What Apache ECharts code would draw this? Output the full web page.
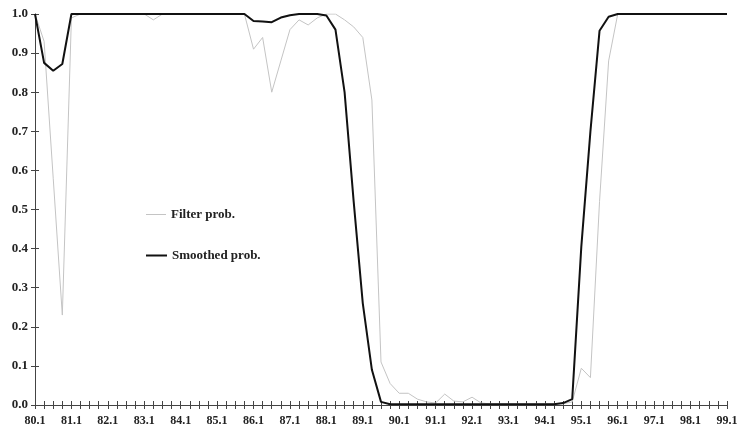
<!DOCTYPE html>
<html>
<head>
<meta charset="utf-8">
<script src="https://cdn.jsdelivr.net/npm/echarts@6/dist/echarts.min.js"></script>
<style>
html,body{margin:0;padding:0;background:#fff;}
#chart{width:741px;height:432px;}
</style>
</head>
<body>
<div id="chart"></div>
<script>
const quarters = [];
for (let y = 80; y <= 99; y++) {
  for (let q = 1; q <= 4; q++) {
    if (y === 99 && q > 1) break;
    quarters.push(y + '.' + q);
  }
}
const filterProb = [
  1.0, 0.93, 0.58, 0.23,
  0.99, 1.0, 1.0, 1.0,
  1.0, 1.0, 1.0, 1.0,
  1.0, 0.985, 1.0, 1.0,
  1.0, 1.0, 1.0, 1.0,
  1.0, 1.0, 1.0, 1.0,
  0.91, 0.94, 0.80, 0.88,
  0.96, 0.985, 0.972, 0.99,
  1.0, 1.0, 0.985, 0.967,
  0.94, 0.78, 0.11, 0.055,
  0.03, 0.03, 0.015, 0.008,
  0.005, 0.028, 0.01, 0.008,
  0.02, 0.005, 0.003, 0.003,
  0.003, 0.003, 0.003, 0.003,
  0.003, 0.003, 0.003, 0.008,
  0.094, 0.07, 0.52, 0.88,
  1.0, 1.0, 1.0, 1.0,
  1.0, 1.0, 1.0, 1.0,
  1.0, 1.0, 1.0, 1.0,
  1.0
];
const smoothedProb = [
  1.0, 0.875, 0.855, 0.872,
  1.0, 1.0, 1.0, 1.0,
  1.0, 1.0, 1.0, 1.0,
  1.0, 1.0, 1.0, 1.0,
  1.0, 1.0, 1.0, 1.0,
  1.0, 1.0, 1.0, 1.0,
  0.982, 0.981, 0.979, 0.991,
  0.997, 1.0, 1.0, 1.0,
  0.996, 0.96, 0.80, 0.52,
  0.26, 0.09, 0.008, 0.002,
  0.002, 0.002, 0.002, 0.002,
  0.002, 0.002, 0.002, 0.002,
  0.002, 0.002, 0.002, 0.002,
  0.002, 0.002, 0.002, 0.002,
  0.002, 0.002, 0.005, 0.015,
  0.405, 0.70, 0.957, 0.993,
  1.0, 1.0, 1.0, 1.0,
  1.0, 1.0, 1.0, 1.0,
  1.0, 1.0, 1.0, 1.0,
  1.0
];
const yTicks = [0, 0.1, 0.2, 0.3, 0.4, 0.5, 0.6, 0.7, 0.8, 0.9, 1.0];

const fontFam = '"Liberation Serif", "DejaVu Serif", serif';
const axisColor = '#444';
const grayColor = '#c4c4c4';
const blackColor = '#111';
const legendText = {fontFamily: fontFam, fontWeight: 'bold', fontSize: 13, color: '#222'};
const chart = echarts.init(document.getElementById('chart'), null, {renderer: 'canvas'});
chart.setOption({
  animation: false,
  backgroundColor: '#fff',
  grid: {left: 35, right: 14, top: 14, bottom: 27, containLabel: false},
  legend: [{
    left: 141, top: 203,
    icon: 'rect', itemWidth: 20, itemHeight: 1,
    textStyle: legendText,
    itemStyle: {color: grayColor},
    data: ['Filter prob.']
  }, {
    left: 141, top: 244,
    icon: 'rect', itemWidth: 21, itemHeight: 2,
    textStyle: legendText,
    itemStyle: {color: blackColor},
    data: ['Smoothed prob.']
  }],
  xAxis: [{
    type: 'category',
    data: quarters,
    boundaryGap: false,
    axisLine: {lineStyle: {color: axisColor, width: 1}},
    axisTick: {show: true, interval: 0, length: 4, lineStyle: {color: axisColor}},
    axisLabel: {interval: 3, margin: 10, fontFamily: fontFam, fontWeight: 'bold', fontSize: 12, color: '#222'},
    splitLine: {show: false}
  }, {
    type: 'category',
    data: quarters,
    boundaryGap: false,
    position: 'bottom',
    axisLine: {show: false},
    axisTick: {show: true, inside: true, interval: 0, length: 4, lineStyle: {color: axisColor}},
    axisLabel: {show: false},
    splitLine: {show: false}
  }],
  yAxis: [{
    type: 'value',
    min: 0, max: 1, interval: 0.1,
    axisLine: {show: true, lineStyle: {color: axisColor, width: 1}},
    axisTick: {show: true, length: 4, lineStyle: {color: axisColor}},
    axisLabel: {margin: 7, fontFamily: fontFam, fontWeight: 'bold', fontSize: 13, color: '#222',
      formatter: v => v.toFixed(1)},
    splitLine: {show: false}
  }, {
    type: 'value',
    min: 0, max: 1, interval: 0.1,
    position: 'left',
    axisLine: {show: false},
    axisTick: {show: true, inside: true, length: 4, lineStyle: {color: axisColor}},
    axisLabel: {show: false},
    splitLine: {show: false}
  }],
  series: [{
    name: 'Filter prob.',
    type: 'line',
    data: filterProb,
    symbol: 'none',
    lineStyle: {color: grayColor, width: 1},
    itemStyle: {color: grayColor},
    z: 2
  }, {
    name: 'Smoothed prob.',
    type: 'line',
    data: smoothedProb,
    symbol: 'none',
    lineStyle: {color: blackColor, width: 2},
    itemStyle: {color: blackColor},
    z: 3
  }]
});
</script>
</body>
</html>
